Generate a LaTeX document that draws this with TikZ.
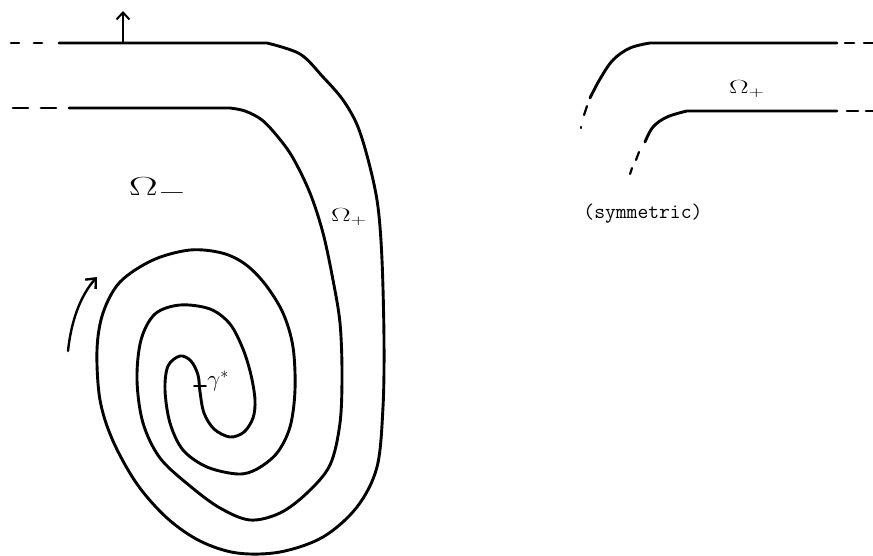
\documentclass[tikz,border=0pt]{standalone}
\usepackage{amsmath}
\usepackage{fontspec}
\usepackage{tikz}
\usetikzlibrary{arrows.meta}

\begin{document}
\begin{tikzpicture}[x=1pt, y=-1pt, line width=2.9pt, line cap=round]
\useasboundingbox (0,0) rectangle (873,555);

% Left: the two curves spiralling into the centre
\draw[dash pattern=on 8pt off 15pt] (11,43) -- (50,43);
\draw[dash pattern=on 15pt off 13pt] (13,108) -- (60,108);
\draw (59,43) -- plot[smooth, tension=0.55] coordinates {(267,43) (300,54) (323,77) (343,100) (358,127)
  (370,167) (378,207) (382,260) (384,340) (383,407) (377,467) (357,507) (323,537) (280,552)
  (237,553) (200,541) (167,518) (137,484) (113,441) (100,400) (97,350) (103,313) (120,282)
  (153,260) (190,250) (222,253) (245,264) (265,284) (283,313) (293,347) (295,390) (290,427)
  (277,453) (257,469) (238,474) (207,467) (183,450) (170,423) (165,390) (168,366) (180,356)
  (191,361) (198,375) (200,392) (204,413) (214,429) (230,437) (244,432) (253,418) (255,400)
  (251,375) (243,349) (230,324) (210,309) (180,305) (155,314) (141,340) (137,380) (143,423)
  (160,458) (190,486) (220,508) (250,520) (280,513) (307,493) (330,465) (340,423) (342,373)
  (340,323) (333,280) (323,233) (310,193) (293,158) (278,137) (262,120) (245,111) (230,108)} -- (69,108);

% Marks
\draw[-{Straight Barb[length=7pt,width=13pt]}, line width=2pt] (123,43) -- (123,11);
\draw[-{Straight Barb[length=8pt,width=14pt]}, line width=2.4pt] (68,351) .. controls (71,322) and (80,296) .. (97,277);
\draw[line width=1.8pt] (194,386) -- (206,386);

% Labels
\node[font=\Huge] (omegaminus) at (158,189) {\scalebox{1.75}[1.05]{$\Omega_{-}$}};
\node[font=\LARGE] (omegaplus) at (349,217) {\scalebox{1.7}[1.1]{$\Omega_{+}$}};
\node[font=\Large, anchor=west, inner sep=1pt] (gammastar) at (205,381) {\scalebox{1.6}{$\gamma^{*}$}};

% Right: symmetric part
\draw[dash pattern=on 9pt off 10pt] (845,43) -- (873,43);
\draw[dash pattern=on 11pt off 8pt] (847,111) -- (873,111);
\draw plot[smooth, tension=0.6] coordinates {(590,98) (600,79) (613,60) (630,48) (650,43)} -- (837,43);
\draw plot[smooth, tension=0.6] coordinates {(645,142) (653,127) (667,117) (687,111)} -- (837,111);
\draw[line width=2.2pt] (587,106) -- (584,115);
\draw[line width=2.2pt] (581,127) -- (581,128);
\draw[line width=2.2pt] (639,152) -- (636,160);
\draw[line width=2.2pt] (632,168) -- (630,174);
\node[font=\LARGE] (omegaright) at (747,89) {\scalebox{1.7}[1.1]{$\Omega_{+}$}};
\node[font=\fontsize{21}{24}\selectfont\ttfamily, anchor=west, inner sep=0pt] (symm) at (582,214) {(symmetric)};

\end{tikzpicture}
\end{document}
